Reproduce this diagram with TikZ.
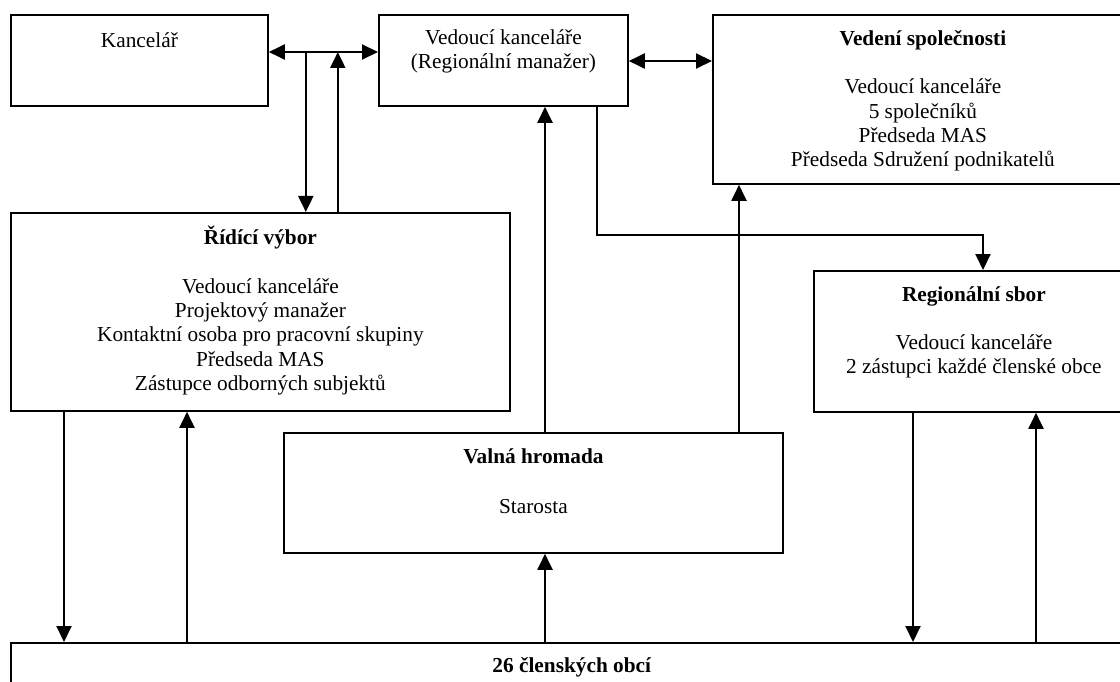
\documentclass[tikz,border=0pt]{standalone}
\usepackage{fontspec}
\setmainfont{Liberation Serif}
\usetikzlibrary{arrows.meta}

\tikzset{
  box/.style={draw, line width=1.8pt, rectangle, inner sep=0pt, anchor=north west, fill=white},
  txt/.style={align=center, inner sep=0pt, anchor=north,
    font={\fontsize{21.3}{24.3}\selectfont},
    execute at begin node={\rule{0pt}{20pt}}},
  tip/.tip={Triangle[length=16pt,width=15pt]},
  arr/.style={line width=2pt, -tip},
  darr/.style={line width=2pt, tip-tip}
}
\newcommand{\gapline}{\\[24.3pt]}

\begin{document}
\begin{tikzpicture}[x=1pt, y=-1pt]
  \useasboundingbox (0,0) rectangle (1120,682);
  \fill[white] (0,0) rectangle (1120,682);
  \clip (0,0) rectangle (1120,682);

  % boxes
  \node[box, minimum width=257pt, minimum height=91pt]  (kanc) at (10,14) {};
  \node[box, minimum width=249pt, minimum height=91pt]  (vk)   at (378,14) {};
  \node[box, minimum width=420pt, minimum height=169pt] (vs)   at (712,14) {};
  \node[box, minimum width=499pt, minimum height=198pt] (rv)   at (10,212) {};
  \node[box, minimum width=320pt, minimum height=141pt] (rs)   at (813,270) {};
  \node[box, minimum width=499pt, minimum height=120pt] (vh)   at (283,432) {};
  \node[box, minimum width=1122pt, minimum height=70pt] (obce) at (10,642) {};

  % texts
  \node[txt] (kanc-t) at ([yshift=-13pt]kanc.north) {Kancelář};
  \node[txt] (vk-t) at ([yshift=-15pt]vk.north) {Vedoucí kanceláře\\(Regionální manažer)};
  \node[txt] (vs-t) at ([yshift=-16pt]vs.north) {\textbf{Vedení společnosti}\gapline
    Vedoucí kanceláře\\5 společníků\\Předseda MAS\\Předseda Sdružení podnikatelů};
  \node[txt] (rv-t) at ([yshift=-14pt]rv.north) {\textbf{Řídící výbor}\gapline
    Vedoucí kanceláře\\Projektový manažer\\Kontaktní osoba pro pracovní skupiny\\Předseda MAS\\Zástupce odborných subjektů};
  \node[txt] (rs-t) at ([yshift=-16pt]rs.north) {\textbf{Regionální sbor}\gapline
    Vedoucí kanceláře\\2 zástupci každé členské obce};
  \node[txt] (vh-t) at ([yshift=-16pt]vh.north) {\textbf{Valná hromada}\\[26pt] Starosta};
  \node[txt] (obce-t) at ([yshift=-10pt]obce.north) {\textbf{26 členských obcí}};

  % Kancelář <-> Vedoucí kanceláře, with the branch to Řídící výbor
  \coordinate (kl) at ([yshift=-38pt]kanc.north east);
  \coordinate (j1) at ([xshift=37pt]kl);
  \coordinate (j2) at ([xshift=69pt]kl);
  \draw[darr] (kl) -- (kl -| vk.west);
  \draw[arr] (j1) -- (j1 |- rv.north);
  \draw[arr] (j2 |- rv.north) -- (j2);

  % Vedoucí kanceláře <-> Vedení společnosti
  \coordinate (vl) at ([yshift=-47pt]vk.north east);
  \draw[darr] (vl) -- (vl -| vs.west);

  % Valná hromada up to the management
  \coordinate (h1) at ([xshift=262pt]vh.north west);
  \coordinate (h2) at ([xshift=456pt]vh.north west);
  \draw[arr] (h1) -- (h1 |- vk.south);
  \draw[arr] (h2) -- (h2 |- vs.south);

  % Vedoucí kanceláře down to Regionální sbor
  \coordinate (v1) at ([xshift=219pt]vk.south west);
  \coordinate (r0) at ([xshift=170pt]rs.north west);
  \draw[arr] (v1) -- ++(0,128) -| (r0);

  % Řídící výbor <-> 26 členských obcí
  \coordinate (a1) at ([xshift=54pt]rv.south west);
  \coordinate (a2) at ([xshift=177pt]rv.south west);
  \draw[arr] (a1) -- (a1 |- obce.north);
  \draw[arr] (a2 |- obce.north) -- (a2);

  % 26 členských obcí up to Valná hromada
  \draw[arr] (h1 |- obce.north) -- (h1 |- vh.south);

  % Regionální sbor <-> 26 členských obcí
  \coordinate (b1) at ([xshift=100pt]rs.south west);
  \coordinate (b2) at ([xshift=223pt]rs.south west);
  \draw[arr] (b1) -- (b1 |- obce.north);
  \draw[arr] (b2 |- obce.north) -- (b2);
\end{tikzpicture}
\end{document}
